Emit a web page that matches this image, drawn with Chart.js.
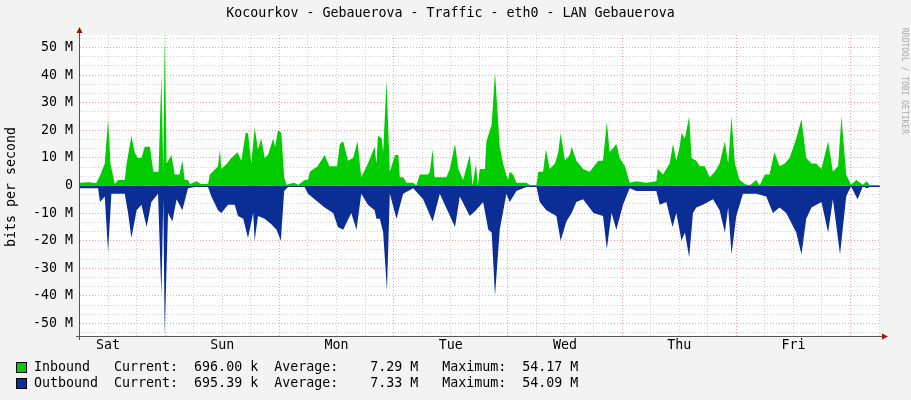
<!DOCTYPE html>
<html><head><meta charset="utf-8">
<script src="https://cdn.jsdelivr.net/npm/chart.js@4"></script>
<style>
html,body{margin:0;padding:0;background:#f3f3f3;}
#wrap{position:relative;width:911px;height:400px;font-family:"DejaVu Sans Mono",monospace;color:#000;}
canvas{position:absolute;left:0;top:0;}
.t{position:absolute;white-space:pre;font-size:13.3px;}
.sq{position:absolute;width:9px;height:9px;border:1px solid #000;}
</style></head><body>
<div id="wrap">
<canvas id="c" width="911" height="400"></canvas>
<div class="t" style="left:0;width:901px;top:5px;text-align:center;">Kocourkov - Gebauerova - Traffic - eth0 - LAN Gebauerova</div>
<div class="t" style="left:3px;top:247px;transform-origin:0 0;transform:rotate(-90deg);">bits per second</div>
<div class="t" style="left:909px;top:28px;font-size:8px;color:#aaa;transform-origin:0 0;transform:rotate(90deg);">RRDTOOL / TOBI OETIKER</div>
<div class="sq" style="left:16px;top:362px;background:#00cc00;"></div>
<div class="sq" style="left:16px;top:378px;background:#0a2e96;"></div>
<div class="t" style="left:34px;top:359px;">Inbound   Current:  696.00 k  Average:    7.29 M   Maximum:  54.17 M</div>
<div class="t" style="left:34px;top:375px;">Outbound  Current:  695.39 k  Average:    7.33 M   Maximum:  54.09 M</div>
</div>
<script>
const dayLabels = {12:'Sat',36:'Sun',60:'Mon',84:'Tue',108:'Wed',132:'Thu',156:'Fri'};
// hours since Saturday 00:00
const inHours = [6.1,8,9.5,10.3,11.3,12.0,12.5,13.4,14.1,15.5,15.9,16.9,17.6,18.2,19.0,19.7,20.8,21.5,22.6,23.2,23.6,23.9,24.3,25.3,26.0,27.0,27.6,28.1,28.8,29.2,30.6,31.5,33.0,33.4,35.1,35.5,35.8,37.0,37.9,39.2,40.0,40.9,41.4,42.1,42.8,43.5,44.2,44.9,45.6,46.7,47.1,47.7,48.4,49.0,49.5,51,52,53.3,54.0,54.4,56,57.5,58.5,60.1,60.7,61.4,62.4,63.5,64.4,65.2,66.6,68,
68.4,68.7,69.5,69.8,70.5,71.2,72.3,73,73.3,74,74.7,76.1,76.8,77.5,79.2,79.6,80.2,80.6,82.4,83.1,83.8,84.9,85.6,86.6,88,88.6,89.3,89.7,90.1,91.2,91.5,92.6,93.3,94.3,95,96,96.4,97.1,97.8,99.9,100.6,102,102.4,103.4,104,104.8,105.9,106.6,107.1,108,109,109.4,110.4,111.8,113.2,115,116,116.8,117.4,118.8,119.5,120.6,121.6,
123,125,127.2,127.5,128.6,130,130.7,131.4,132.1,132.5,133.2,134.1,134.6,135.6,136.3,137.4,138.4,139.5,140.5,141.6,142.3,143,143.7,144.7,145.8,146.8,148.2,148.9,150,151,152,153.1,154.2,155.2,156.6,157.7,158.7,159.8,160.8,161.9,163.3,164.3,165.4,166.1,167.1,168.1,169.2,170.6,171.4,172,174.1];
const inValues = [1,1.2,0.8,3.5,8,24,8,0.5,2,2,8,18,12,10,10,14,14,5,5,40,6,54.17,8,11,4,4,9,2,2,0.5,1.5,0.5,0.5,4,7,13,6,8,10,12,9,19,19,8,21,13,17,10,11,17,14,20,19,3,0.3,1,0.3,2,2,5,7,11,7,7,15,16,9,10,16,3,8,14,
8,18,17,12,38,5,11,11,3,3,1,1,0,4,4,5,13,3,3,3,6,15,6,2,11,0,8,0,6,6,16,22,41,14,8,2,5,4,1,1,0.2,0.2,5,5,13,6,8,12,19,9,11,14,9,6,5,9,9,23,12,15,10,7,1,
1.5,1,1.5,6,4,8,15,9,14,19,17,25,10,9,7,7,3,5,8,16,8,25,8,2,0.5,0,2,0,4,4,12,7,8,10,17,24,10,8,8,6,16,5,7,25,4,0.3,2,0.3,1.5,0.2,0.2];
const outHours = [6.1,9.9,10.3,11.3,12.0,12.7,15.5,16.2,16.9,18,19,20.1,21.1,22.5,23.2,23.6,23.9,24.6,25.5,26.4,27.6,28.8,30.2,33,33.7,35.1,35.8,37.2,38.6,39.3,40.4,41.4,42.5,42.8,43.5,44.9,46.3,47.4,48.3,49,49.8,53.3,54,55.4,57.5,59.3,60.3,61.4,63.1,64.2,65.2,66.6,68,
68.4,69.1,69.8,70.6,71.2,72.6,74,76.1,78.2,80.2,81.7,84.9,85.9,88,89.3,90.8,91.9,92.6,93.3,94.3,95.7,96.4,97.8,99.9,102,102.7,104.1,106.2,107.1,108.3,109.4,110.4,111.8,114,116,116.8,117.8,118.8,120.2,121.6,
123,127.2,127.9,129.3,130.6,131.4,132.5,133.2,134.1,134.9,135.6,137,139.1,140.5,141.6,142.3,143,144,145.4,148.2,150.3,151.7,153.1,154.5,156.6,157.7,158.7,159.8,161.9,163.3,164.3,165.8,167.1,168.1,169.5,170.6,171.4,172.7,174.1];
const outValues = [1,1,6,4,24,3,3,10,19,9,7,15,6,3,40,5,54.09,10,13,5,9,1,0.5,0.5,4,9,10,7,7,11,12,19,10,20,11,12,14,16,20,2,0.5,0.5,3,5,8,10,15,16,10,16,3,7,9,
12,12,17,38,3,12,3,1,5,13,3,15,4,11,9,6,16,17,40,16,3,6,2,0.5,0.3,6,9,11,20,13,10,6,5,10,11,23,10,16,7,1,
2,2,7,6,15,10,20,17,26,10,8,7,5,9,17,8,25,11,3,3,4,10,8,10,17,25,12,8,6,17,5,25,4,0.3,5,0.3,1,0.2,0.2];

const inData = inHours.map((h,i)=>({x:h,y:inValues[i]}));
const outData = outHours.map((h,i)=>({x:h,y:-outValues[i]}));

const arrows = {id:'arrows', afterDraw(ch){
  const c=ch.ctx, a=ch.chartArea, y0=ch.scales.y.getPixelForValue(0);
  c.save();
  c.strokeStyle='#0a2e96'; c.lineWidth=1;
  c.beginPath(); c.moveTo(a.left,Math.round(y0)+0.5); c.lineTo(a.right,Math.round(y0)+0.5); c.stroke();
  c.strokeStyle='#555';
  c.beginPath(); c.moveTo(a.left-0.5,a.bottom+4); c.lineTo(a.left-0.5,a.top-4); c.stroke();
  c.beginPath(); c.moveTo(a.left-4,a.bottom+0.5); c.lineTo(a.right+4,a.bottom+0.5); c.stroke();
  c.fillStyle='#a01010';
  c.beginPath(); c.moveTo(a.left-3.5,a.top-2); c.lineTo(a.left+2.5,a.top-2); c.lineTo(a.left-0.5,a.top-8); c.fill();
  c.beginPath(); c.moveTo(a.right+2,a.bottom-2.5); c.lineTo(a.right+2,a.bottom+3.5); c.lineTo(a.right+8,a.bottom+0.5); c.fill();
  c.restore();
}};
const plotBg = {id:'plotBg', beforeDraw(ch){const c=ch.ctx,a=ch.chartArea;c.save();c.fillStyle='#fff';c.fillRect(a.left,a.top,a.right-a.left,a.bottom-a.top);c.restore();}};

new Chart(document.getElementById('c'),{
  type:'line',
  data:{datasets:[
    {data:inData,backgroundColor:'#00cc00',borderWidth:0,fill:'origin',pointRadius:0,tension:0},
    {data:outData,backgroundColor:'#0a2e96',borderWidth:0,fill:'origin',pointRadius:0,tension:0}
  ]},
  options:{
    responsive:false,animation:false,
    layout:{padding:{left:0,top:35,right:31,bottom:44}},
    plugins:{legend:{display:false},tooltip:{enabled:false}},
    scales:{
      x:{type:'linear',min:6.1,max:174.2,
        afterFit(s){s.height=20;},
        afterBuildTicks(s){const t=[];for(let h=12;h<=174;h+=6)t.push({value:h});s.ticks=t;},
        grid:{color:c=>c.tick&&c.tick.value%24===0?'rgba(230,90,90,0.55)':'rgba(150,150,150,0.45)',lineWidth:1,drawTicks:false},
        border:{display:false,dash:[1,2]},
        ticks:{autoSkip:false,maxRotation:0,padding:2,color:'#000',font:{family:'DejaVu Sans Mono',size:13.3},callback:v=>dayLabels[v]||''}
      },
      y:{min:-54.5,max:54.5,
        afterFit(s){s.width=80;},
        afterBuildTicks(s){const t=[];for(let k=-16;k<=16;k++)t.push({value:k*10/3});s.ticks=t;},
        grid:{color:c=>{if(!c.tick)return'transparent';const k=Math.round(c.tick.value*3/10);return k%3===0?'rgba(230,90,90,0.55)':'rgba(150,150,150,0.45)';},drawTicks:false},
        border:{display:false,dash:[1,2]},
        ticks:{autoSkip:false,padding:7,color:'#000',font:{family:'DejaVu Sans Mono',size:13.3},
          callback:v=>{const k=Math.round(v*3/10);if(k%3!==0)return'';const m=k/3*10;return m===0?'0':m+' M';}}
      }
    }
  },
  plugins:[plotBg,arrows]
});
</script>
</body></html>
